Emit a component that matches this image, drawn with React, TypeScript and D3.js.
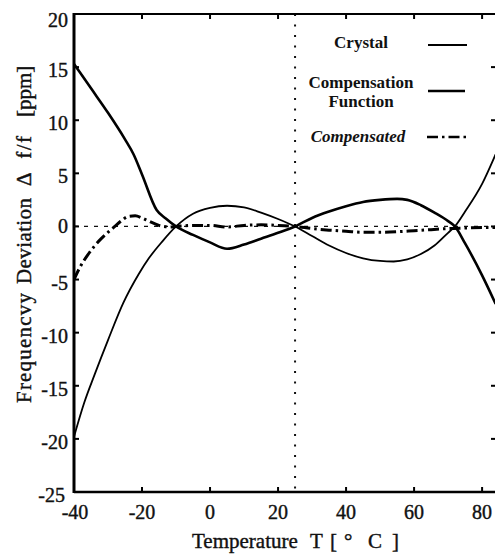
import React from "react";
import * as d3 from "d3";

const xTicks = [-40, -20, 0, 20, 40, 60, 80];
const yTicks = [20, 15, 10, 5, 0, -5, -10, -15, -20, -25];

const crystalT = [-40, -37, -34, -30, -25.5, -21, -18, -14, -10, -5, 0, 5, 10, 15, 20, 25, 30, 35, 40, 45, 50, 54, 58, 62, 66, 70, 72, 75, 80, 84];
const crystalV = [-19.8, -16.6, -14.0, -10.7, -7.2, -4.5, -3.0, -1.4, 0, 1.2, 1.75, 1.95, 1.8, 1.3, 0.7, 0, -0.9, -1.8, -2.5, -3.0, -3.25, -3.3, -3.1, -2.6, -1.8, -0.6, 0, 1.4, 4.0, 6.8];

const compT = [-40, -35, -30, -25, -22.5, -20, -15.7, -13, -10, -5, 0, 5, 10, 15, 20, 25, 30, 35, 40, 45, 50, 55, 58, 62, 66, 70, 72, 75, 80, 84];
const compV = [15.3, 13.0, 10.7, 8.2, 6.8, 4.9, 1.55, 0.75, 0, -0.8, -1.5, -2.1, -1.7, -1.15, -0.6, 0, 0.8, 1.4, 1.9, 2.3, 2.5, 2.6, 2.5, 2.0, 1.3, 0.5, 0, -1.6, -4.6, -7.3];

const compdT = [-40, -38, -36, -34, -32, -30, -28, -26, -24, -22, -20, -18, -15, -12, -10, -5, 0, 5, 10, 15, 20, 25, 30, 35, 40, 45, 50, 55, 60, 65, 70, 75, 80, 84];
const compdV = [-5.0, -3.7, -2.7, -1.85, -1.15, -0.55, 0.0, 0.55, 0.95, 1.0, 0.8, 0.5, 0.1, -0.05, 0, 0.1, 0.1, -0.05, 0.1, 0.15, 0.1, 0, -0.2, -0.35, -0.45, -0.55, -0.55, -0.5, -0.4, -0.3, -0.2, -0.15, -0.1, -0.1];

const legendLabels = ["Crystal", "Compensation", "Function", "Compensated"];
const xTitleParts = ["Temperature", "T", "[", "°", "C", "]"];
const yTitleParts = ["Frequencvy", "Deviation", "Δ  f/f", "[ppm]"];

const W = 495;
const H = 556;
const L = 74;
const R = 494;
const T = 14;
const B = 492;

const FONT = "'Liberation Serif', 'Times New Roman', serif";

export default function App() {
  const x = d3.scaleLinear().domain([-40, 83.5]).range([L, R]);
  const y = d3.scaleLinear().domain([-25, 20]).range([B, T]);
  const mk = (ts: number[], vs: number[]) =>
    d3
      .line<[number, number]>()
      .x((d) => x(d[0]))
      .y((d) => y(d[1]))
      .curve(d3.curveMonotoneX)(ts.map((t, i) => [t, vs[i]] as [number, number])) || "";
  const crystal = mk(crystalT, crystalV);
  const comp = mk(compT, compV);
  const compd = mk(compdT, compdV);
  const tStyle = { fontFamily: FONT } as React.CSSProperties;
  const xTitleX = [192, 310, 330, 344, 368, 392];
  const yTitleY = [403, 284, 186, 117];
  const yTitleLen = [110, 86, 50, 0];

  return (
    <svg
      width={W}
      height={H}
      style={{ position: "absolute", left: 0, top: 0, background: "#fff", fontFamily: FONT }}
    >
      <rect x={0} y={0} width={W} height={H} fill="#fff" />
      <defs>
        <clipPath id="plot">
          <rect x={L} y={T} width={R - L + 2} height={B - T} />
        </clipPath>
      </defs>
      <line x1={L} x2={W} y1={y(0)} y2={y(0)} stroke="#111" strokeWidth={1.3} strokeDasharray="4,6" />
      <line x1={x(25)} x2={x(25)} y1={T} y2={B} stroke="#111" strokeWidth={2} strokeDasharray="2,8.5" />
      <g clipPath="url(#plot)" fill="none" stroke="#000" strokeLinejoin="round">
        <path d={crystal} strokeWidth={1.8} />
        <path d={comp} strokeWidth={2.6} />
        <path d={compd} strokeWidth={3} strokeDasharray="11,4,2.5,4" />
      </g>
      <line x1={L} x2={L} y1={T - 1} y2={B + 1} stroke="#000" strokeWidth={3} />
      <line x1={L} x2={W} y1={B} y2={B} stroke="#000" strokeWidth={2.6} />
      <line x1={L} x2={W} y1={T} y2={T} stroke="#000" strokeWidth={2.2} />
      <g fill="#111" stroke="#111" strokeWidth={0.4}>
        {xTicks.map((t) => (
          <g key={"xt" + t}>
            <line x1={x(t)} x2={x(t)} y1={B} y2={B - 5} stroke="#000" strokeWidth={2} />
            <line x1={x(t)} x2={x(t)} y1={T} y2={T + 5} stroke="#000" strokeWidth={2} />
            <text x={x(t) + (t === -40 ? 1 : 0)} y={519} textAnchor="middle" fontSize={20} style={tStyle}>
              {t}
            </text>
          </g>
        ))}
        {yTicks.map((v) => (
          <g key={"yt" + v}>
            <line x1={L} x2={L + 5} y1={y(v)} y2={y(v)} stroke="#000" strokeWidth={2} />
            <line x1={W - 4} x2={W} y1={y(v)} y2={y(v)} stroke="#000" strokeWidth={2} />
            <text
              x={v === -25 ? 65 : 68}
              y={y(v) + (v === 20 ? 13 : v === 0 ? 7 : 10)}
              textAnchor="end"
              fontSize={20}
              style={tStyle}
            >
              {v}
            </text>
          </g>
        ))}
        <text y={548} fontSize={21} style={tStyle}>
          {xTitleParts.map((p, i) => (
            <tspan key={p} x={xTitleX[i]}>
              {p}
            </tspan>
          ))}
        </text>
        {yTitleParts.map((p, i) => (
          <text
            key={p}
            transform="rotate(-90)"
            x={-yTitleY[i]}
            y={31}
            fontSize={21}
            style={{ ...tStyle, whiteSpace: "pre" }}
            {...(yTitleLen[i] ? { textLength: yTitleLen[i], lengthAdjust: "spacing" } : {})}
          >
            {p}
          </text>
        ))}
      </g>
      <g fontWeight="bold" fontSize={17} fill="#111" textAnchor="middle">
        <text x={361} y={48} style={tStyle}>{legendLabels[0]}</text>
        <text x={361} y={88} style={tStyle}>{legendLabels[1]}</text>
        <text x={361} y={107} style={tStyle}>{legendLabels[2]}</text>
        <text x={358} y={142} fontStyle="italic" style={tStyle}>{legendLabels[3]}</text>
      </g>
      <line x1={428} x2={467} y1={45} y2={45} stroke="#000" strokeWidth={1.8} />
      <line x1={428} x2={465} y1={91} y2={91} stroke="#000" strokeWidth={2.6} />
      <line x1={427} x2={467} y1={137} y2={137} stroke="#000" strokeWidth={2.4} strokeDasharray="11,4,2.5,4" />
    </svg>
  );
}
